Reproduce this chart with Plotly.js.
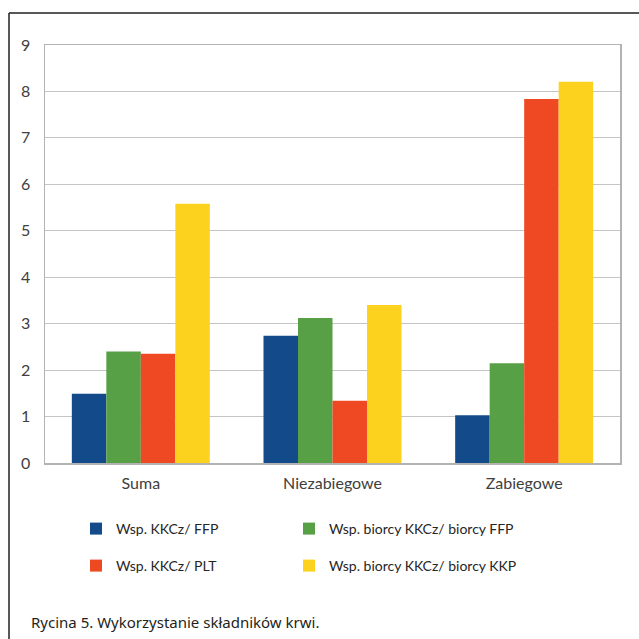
<!DOCTYPE html>
<html>
<head>
<meta charset="utf-8">
<script src="https://cdn.plot.ly/plotly-3.0.1.min.js"></script>
<style>
  html, body { margin: 0; padding: 0; background: #ffffff; }
  #chart { width: 639px; height: 639px; }
</style>
</head>
<body>
<div id="chart"></div>
<script>
// Blood component usage ratios by patient group
const categories = ['Suma', 'Niezabiegowe', 'Zabiegowe'];

const seriesNames = [
  'Wsp. KKCz/ FFP',
  'Wsp. biorcy KKCz/ biorcy FFP',
  'Wsp. KKCz/ PLT',
  'Wsp. biorcy KKCz/ biorcy KKP'
];

const kkczFfp = [1.49, 2.74, 1.03];
const biorcyKkczFfp = [2.40, 3.12, 2.15];
const kkczPlt = [2.35, 1.34, 7.84];
const biorcyKkczKkp = [5.58, 3.40, 8.21];

const yTicks = [0, 1, 2, 3, 4, 5, 6, 7, 8, 9];

const caption = 'Rycina 5. Wykorzystanie składników krwi.';

const seriesValues = [kkczFfp, biorcyKkczFfp, kkczPlt, biorcyKkczKkp];
const seriesColors = ['#134a89', '#58a046', '#ef4924', '#fdd21f'];
// one legend box per series, laid out as a 2 x 2 grid
const seriesLegend = ['legend', 'legend2', 'legend3', 'legend4'];

const traces = seriesValues.map((vals, i) => ({
  type: 'bar',
  name: seriesNames[i],
  x: categories,
  y: vals,
  legend: seriesLegend[i],
  marker: { color: seriesColors[i], line: { width: 0 } },
  hoverinfo: 'x+y+name'
}));

// Plot area: 45..620 px horizontally, 45..463 px vertically
const W = 639, H = 639;
const L = 45, R = 19, T = 45, B = 176;
const pw = W - L - R, ph = H - T - B;
const px = v => (v - L) / pw;          // page x -> paper x
const py = v => (H - B - v) / ph;      // page y -> paper y

const legendFont = { family: 'Lato, "Open Sans", sans-serif', size: 14, color: '#262626' };
const legendBox = (left, rowCenter) => ({
  x: px(left),
  xanchor: 'left',
  y: py(rowCenter),
  yanchor: 'middle',
  font: legendFont,
  bgcolor: 'rgba(0,0,0,0)',
  itemclick: false,
  itemdoubleclick: false
});

const layout = {
  width: W,
  height: H,
  margin: { l: L, r: R, t: T, b: B, pad: 0 },
  paper_bgcolor: '#ffffff',
  plot_bgcolor: '#ffffff',
  font: { family: 'Lato, "Open Sans", sans-serif', size: 14, color: '#404040' },
  barmode: 'group',
  bargap: 0.28,
  bargroupgap: 0,
  showlegend: true,
  legend: legendBox(76, 529),
  legend2: legendBox(289, 529),
  legend3: legendBox(76, 566),
  legend4: legendBox(289, 566),
  xaxis: {
    type: 'category',
    showgrid: false,
    zeroline: false,
    showline: true,
    mirror: true,
    linecolor: '#b3b3b3',
    linewidth: 1.5,
    ticks: '',
    ticklabelstandoff: 5,
    tickfont: { size: 16, color: '#404040' },
    fixedrange: true
  },
  yaxis: {
    range: [0, 9],
    tickvals: yTicks,
    ticktext: yTicks.map(String),
    showgrid: true,
    gridcolor: '#c4c4c4',
    gridwidth: 1,
    zeroline: false,
    showline: true,
    mirror: true,
    linecolor: '#b3b3b3',
    linewidth: 1.5,
    ticks: '',
    ticklabelstandoff: 10,
    tickfont: { size: 16, color: '#404040' },
    fixedrange: true
  },
  shapes: [
    // outer figure frame (top and left edges)
    { type: 'line', xref: 'paper', yref: 'paper', x0: px(9), x1: px(660), y0: py(13), y1: py(13),
      line: { color: '#231f20', width: 1.5 } },
    { type: 'line', xref: 'paper', yref: 'paper', x0: px(9), x1: px(9), y0: py(13), y1: py(660),
      line: { color: '#231f20', width: 1.5 } }
  ],
  annotations: [
    {
      text: caption,
      xref: 'paper', yref: 'paper',
      x: px(29), y: py(622),
      xanchor: 'left', yanchor: 'middle',
      showarrow: false,
      font: { family: '"Noto Sans", "Open Sans", sans-serif', size: 15, color: '#231f20' }
    }
  ]
};

Plotly.newPlot('chart', traces, layout, { displayModeBar: false, staticPlot: true });
</script>
</body>
</html>
